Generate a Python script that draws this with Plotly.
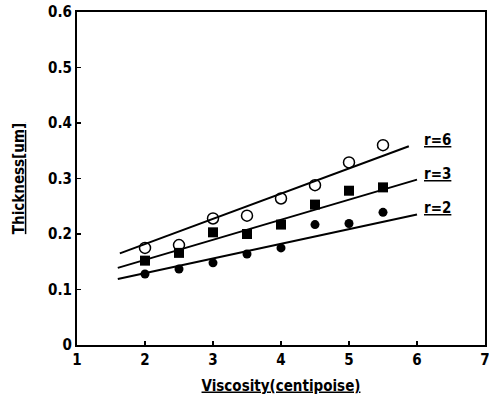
import plotly.graph_objects as go

viscosity = [2, 2.5, 3, 3.5, 4, 4.5, 5, 5.5]
thick_r6 = [0.175, 0.180, 0.228, 0.233, 0.264, 0.288, 0.329, 0.360]
thick_r3 = [0.152, 0.166, 0.203, 0.200, 0.217, 0.253, 0.278, 0.284]
thick_r2 = [0.128, 0.137, 0.148, 0.164, 0.175, 0.217, 0.219, 0.239]

fit_x_r6 = [1.63, 5.88]
fit_y_r6 = [0.165, 0.358]
fit_x_r3 = [1.60, 6.00]
fit_y_r3 = [0.139, 0.298]
fit_x_r2 = [1.60, 6.00]
fit_y_r2 = [0.119, 0.235]

labels = ["r=6", "r=3", "r=2"]
label_x = [6.3, 6.3, 6.3]
label_y = [0.370, 0.308, 0.246]

x_ticks = [1, 2, 3, 4, 5, 6, 7]
y_ticks = [0, 0.1, 0.2, 0.3, 0.4, 0.5, 0.6]
y_tick_text = ["0", "0.1", "0.2", "0.3", "0.4", "0.5", "0.6"]

FONT = "DejaVu Sans Condensed, Liberation Sans, sans-serif"

fig = go.Figure()
for fx, fy in [(fit_x_r6, fit_y_r6), (fit_x_r3, fit_y_r3), (fit_x_r2, fit_y_r2)]:
    fig.add_trace(go.Scatter(x=fx, y=fy, mode="lines",
                             line=dict(color="black", width=2), showlegend=False))

fig.add_trace(go.Scatter(x=viscosity, y=thick_r6, mode="markers", showlegend=False,
                         marker=dict(symbol="circle-open", size=11, color="black",
                                     line=dict(width=1.5, color="black"))))
fig.add_trace(go.Scatter(x=viscosity, y=thick_r3, mode="markers", showlegend=False,
                         marker=dict(symbol="square", size=10, color="black")))
fig.add_trace(go.Scatter(x=viscosity, y=thick_r2, mode="markers", showlegend=False,
                         marker=dict(symbol="circle", size=9, color="black")))

for t, lx, ly in zip(labels, label_x, label_y):
    fig.add_annotation(x=lx, y=ly, text="<b><u>" + t + "</u></b>", showarrow=False,
                       font=dict(size=15, color="black", family=FONT),
                       xanchor="center", yanchor="middle")

axis_common = dict(showline=True, linecolor="black", linewidth=2, mirror=True,
                   ticks="inside", ticklen=4, tickwidth=1.5, tickcolor="black",
                   showgrid=False, zeroline=False, automargin=False,
                   ticklabeloverflow="allow",
                   tickfont=dict(size=15, color="black", family=FONT))

fig.update_xaxes(range=[1, 7], tickvals=x_ticks,
                 ticktext=["<b>%d</b>" % v for v in x_ticks],
                 title=dict(text="<b><u>Viscosity(centipoise)</u></b>",
                            font=dict(size=15, color="black", family=FONT), standoff=12),
                 **axis_common)
fig.update_yaxes(range=[0, 0.6], tickvals=y_ticks,
                 ticktext=["<b>%s</b>" % s for s in y_tick_text],
                 title=dict(text="<b><u>Thickness[um]</u></b>",
                            font=dict(size=15, color="black", family=FONT), standoff=20),
                 **axis_common)

fig.update_layout(width=489, height=405, plot_bgcolor="white", paper_bgcolor="white",
                  margin=dict(l=77, r=4, t=12, b=60), showlegend=False)

fig.write_html("out.html", config={"displayModeBar": False, "staticPlot": True},
               post_script="document.body.style.margin='0';document.body.style.overflow='hidden';")
